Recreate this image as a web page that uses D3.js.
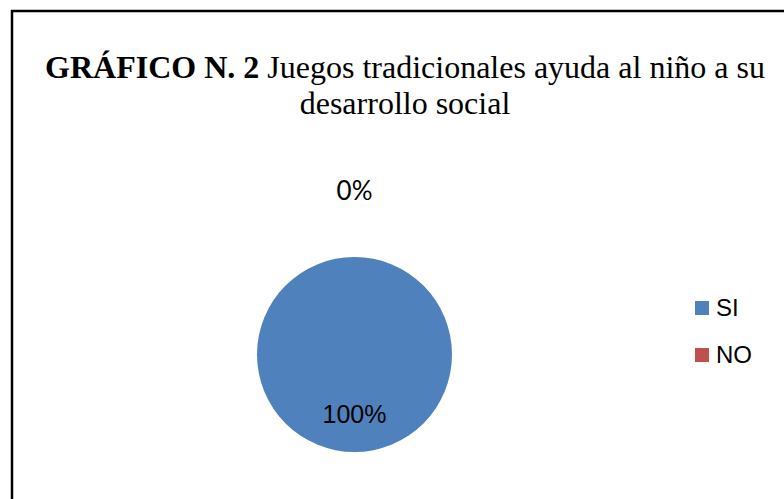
<!DOCTYPE html>
<html>
<head>
<meta charset="utf-8">
<script src="https://cdn.jsdelivr.net/npm/d3@7"></script>
<style>
  body { margin: 0; background: #fff; }
  svg { display: block; }
</style>
</head>
<body>
<svg id="chart" width="784" height="499"></svg>
<script>
// chart data
var categories = ['SI', 'NO'];
var values = [100, 0];
var percentLabels = ['100%', '0%'];
var colors = ['#4F81BD', '#C0504D'];

var svg = d3.select('#chart');

// outer frame (runs off the right and bottom edge)
svg.append('rect')
    .attr('x', 12)
    .attr('y', 11)
    .attr('width', 800)
    .attr('height', 520)
    .style('fill', '#fff')
    .style('stroke', '#000')
    .style('stroke-width', 2.5);

// title
var title = svg.append('text')
    .attr('x', 405)
    .attr('y', 78)
    .style('text-anchor', 'middle')
    .style('font-family', '"Liberation Serif", "Times New Roman", serif')
    .style('font-size', '32px')
    .style('fill', '#000');
title.append('tspan').style('font-weight', 'bold').text('GRÁFICO N. 2');
title.append('tspan').text(' Juegos tradicionales ayuda al niño a su');

svg.append('text')
    .attr('x', 405)
    .attr('y', 114)
    .style('text-anchor', 'middle')
    .style('font-family', '"Liberation Serif", "Times New Roman", serif')
    .style('font-size', '32px')
    .style('fill', '#000')
    .text('desarrollo social');

// pie
var cx = 354.5, cy = 354.5, radius = 97.5;
var g = svg.append('g')
    .attr('transform', `translate(${cx}, ${cy})`);

var pie = d3.pie().sort(null).value(d => d);
var arcs = pie(values);

var arc = d3.arc().innerRadius(0).outerRadius(radius);
var insideArc = d3.arc().innerRadius(120).outerRadius(0);
var outsideArc = d3.arc().innerRadius(164).outerRadius(164);

g.selectAll('.slice')
    .data(arcs)
    .enter()
    .append('path')
    .attr('class', 'slice')
    .attr('d', arc)
    .style('fill', (d, i) => colors[i]);

g.selectAll('.pct')
    .data(arcs)
    .enter()
    .append('text')
    .attr('class', 'pct')
    .attr('transform', d => {
        var c = (d.endAngle - d.startAngle) > 0.01 ? insideArc.centroid(d) : outsideArc.centroid(d);
        return `translate(${c[0]}, ${c[1]})`;
    })
    .attr('dy', '0.35em')
    .style('text-anchor', 'middle')
    .style('font-family', (d, i) => i === 0 ? '"Liberation Sans", Arial, sans-serif' : 'Lato, "Liberation Sans", sans-serif')
    .style('font-size', (d, i) => i === 0 ? '25px' : '26px')
    .style('fill', '#000')
    .text((d, i) => percentLabels[i]);

// legend
var legend = svg.append('g')
    .attr('transform', 'translate(695, 301)');

var legendY = d3.scalePoint()
    .domain(categories)
    .range([0, 47]);

legend.selectAll('rect')
    .data(categories)
    .enter()
    .append('rect')
    .attr('x', 0)
    .attr('y', d => legendY(d))
    .attr('width', 14)
    .attr('height', 14)
    .style('fill', (d, i) => colors[i]);

legend.selectAll('text')
    .data(categories)
    .enter()
    .append('text')
    .attr('x', 21)
    .attr('y', d => legendY(d) + 15)
    .style('font-family', '"Liberation Sans", Arial, sans-serif')
    .style('font-size', '24px')
    .style('fill', '#000')
    .text(d => d);
</script>
</body>
</html>
